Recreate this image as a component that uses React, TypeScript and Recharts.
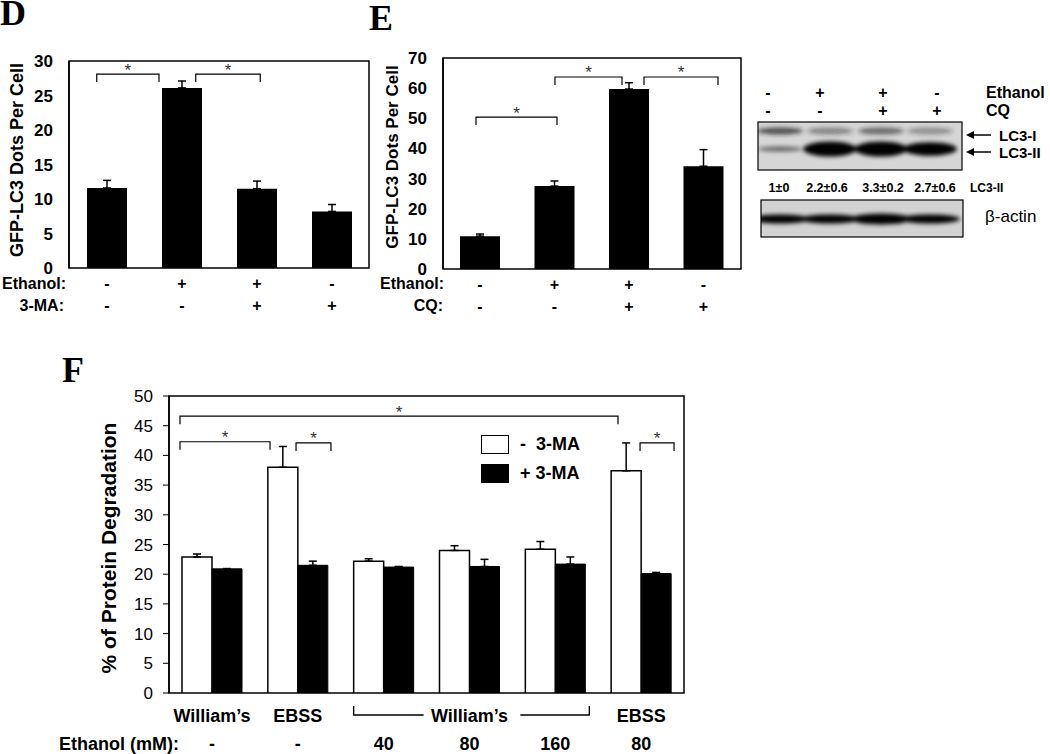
import React from 'react';
import { BarChart, Bar, XAxis, YAxis, ErrorBar, ReferenceArea, ReferenceLine, LabelList, Legend } from 'recharts';

const FONT = 'Arial, "Liberation Sans", Helvetica, sans-serif';
const SERIF = '"Times New Roman", "Liberation Serif", serif';

// panel D: GFP-LC3 dots, ethanol +/- 3-MA
const dEthanol = ['-', '+', '+', '-'];
const dMA = ['-', '-', '+', '+'];
const dDots = [11.6, 26.1, 11.5, 8.2];
const dDotsErr = [1.1, 1.0, 1.1, 1.0];
const dTicks = [0, 5, 10, 15, 20, 25, 30];
const dSig = [
  { from: 0.37, to: 1.2, y: 28.1 },
  { from: 1.69, to: 2.55, y: 28.1 },
];

// panel E: GFP-LC3 dots, ethanol +/- CQ
const eEthanol = ['-', '+', '+', '-'];
const eCQ = ['-', '-', '+', '+'];
const eDots = [10.9, 27.5, 59.7, 34.1];
const eDotsErr = [0.7, 1.7, 2.1, 5.5];
const eTicks = [0, 10, 20, 30, 40, 50, 60, 70];
const eSig = [
  { from: 0.443, to: 1.53, y: 50.4 },
  { from: 1.503, to: 2.403, y: 63.7 },
  { from: 2.698, to: 3.691, y: 63.7 },
];

// western blot next to E
const blotEthanol = ['-', '+', '+', '-'];
const blotCQ = ['-', '-', '+', '+'];
const blotLC3II = ['1±0', '2.2±0.6', '3.3±0.2', '2.7±0.6'];
const blotBandI = [0.75, 0.45, 0.6, 0.4];
const blotBandII = [0.35, 1, 1, 0.9];

// panel F: protein degradation
const fMedium = ['William’s', 'EBSS', 'William’s', 'William’s', 'William’s', 'EBSS'];
const fEthanol = ['-', '-', '40', '80', '160', '80'];
const fMinus = [22.9, 38.0, 22.2, 24.0, 24.2, 37.4];
const fMinusErr = [0.5, 3.5, 0.4, 0.8, 1.3, 4.7];
const fPlus = [20.9, 21.5, 21.2, 21.3, 21.7, 20.1];
const fPlusErr = [0.05, 0.7, 0.1, 1.2, 1.2, 0.2];
const fTicks = [0, 5, 10, 15, 20, 25, 30, 35, 40, 45, 50];
const fSig = [
  { from: 0.128, to: 5.231, y: 46.6 },
  { from: 0.128, to: 1.177, y: 42.3 },
  { from: 1.48, to: 1.887, y: 42.1 },
  { from: 5.488, to: 5.884, y: 42.1 },
];

const range = (n: number) => Array.from({ length: n + 1 }, (_, k) => k);
const noTick = () => <g />;

const bracket = (p: any) => {
  const { x1, y1, x2 } = p;
  return (
    <g>
      <path d={`M${x1},${y1 + 8}V${y1}H${x2}V${y1 + 8}`} fill="none" stroke="#000" strokeWidth={1.2} />
      <text x={(x1 + x2) / 2} y={y1 + 1.5} textAnchor="middle" fontSize={17} fontFamily={FONT} fill="#333">*</text>
    </g>
  );
};

const box = (p: any) => (p.viewBox ? p.viewBox : p);

function DotsPanel(props: any) {
  const { left, width, plotLeft, plotRight, plotTop, plotBottom, yMax, ticks, values, errs, row1, row2, sig } = props;
  const height = 320;
  const data = values.map((v: number, i: number) => ({ i, dots: v, err: [0, errs[i]] }));
  const n = values.length;
  const rows = (p: any) => {
    const b = box(p);
    const i = Number(p.value ?? p.index);
    const cx = b.x + b.width / 2;
    const base = b.y + b.height;
    return (
      <g fontFamily={FONT} fontWeight="bold" fontSize={16} textAnchor="middle" fill="#000">
        <text x={cx} y={base + 15} dominantBaseline="central">{row1[i]}</text>
        <text x={cx} y={base + 37} dominantBaseline="central">{row2[i]}</text>
      </g>
    );
  };
  return (
    <div style={{ position: 'absolute', left, top: 0 }}>
      <BarChart
        width={width}
        height={height}
        data={data}
        barGap={0}
        margin={{ top: plotTop, right: left + width - plotRight, bottom: height - plotBottom, left: 0 }}
      >
        <XAxis dataKey="i" hide />
        <XAxis
          xAxisId="e"
          dataKey="i"
          type="number"
          domain={[0, n]}
          ticks={range(n).slice(1, n)}
          allowDataOverflow
          mirror
          tick={noTick}
          tickSize={5}
          tickLine={{ stroke: '#000' }}
          axisLine={{ stroke: '#000', strokeWidth: 1.5 }}
          height={0}
        />
        <YAxis
          domain={[0, yMax]}
          ticks={ticks}
          allowDataOverflow
          width={plotLeft - left}
          tickLine={false}
          tickSize={6}
          tickMargin={10}
          axisLine={{ stroke: '#000', strokeWidth: 1.5 }}
          tick={{ fontSize: 17, fontWeight: 'bold', fill: '#000', fontFamily: FONT }}
        />
        <ReferenceArea xAxisId="e" x1={0} x2={n} y1={0} y2={yMax} fill="none" stroke="#000" strokeWidth={1.5} ifOverflow="visible" />
        <Bar dataKey="dots" fill="#000" barSize={40} isAnimationActive={false}>
          <ErrorBar dataKey="err" direction="y" width={4} stroke="#000" strokeWidth={1.5} />
          <LabelList dataKey="i" content={rows} />
        </Bar>
        {sig.map((s: any, k: number) => (
          <ReferenceLine
            key={k}
            xAxisId="e"
            segment={[{ x: s.from, y: s.y }, { x: s.to, y: s.y }]}
            ifOverflow="visible"
            shape={bracket}
          />
        ))}
      </BarChart>
    </div>
  );
}

function DegradationPanel() {
  const left = 60;
  const top = 340;
  const width = 640;
  const height = 414;
  const plotLeft = 169;
  const plotRight = 684;
  const plotTop = 396;
  const plotBottom = 693;
  const n = fMinus.length;
  const data = fMinus.map((v, i) => ({
    i,
    minus: v,
    minusErr: [0, fMinusErr[i]],
    plus: fPlus[i],
    plusErr: [0, fPlusErr[i]],
  }));
  const runOf = (i: number) => {
    let s = i;
    while (s > 0 && fMedium[s - 1] === fMedium[i]) s--;
    let e = i;
    while (e < n - 1 && fMedium[e + 1] === fMedium[i]) e++;
    return [s, e];
  };
  const rows = (p: any) => {
    const b = box(p);
    const i = Number(p.value ?? p.index);
    const cx = b.x; // black bar starts at group centre
    const w = b.width;
    const base = b.y + b.height;
    const y1 = base + 22;
    const [s, e] = runOf(i);
    let medium: any = null;
    if (s === e || i === Math.round((s + e) / 2)) {
      medium = <text x={cx} y={base + 23} dominantBaseline="central">{fMedium[i]}</text>;
    } else if (i === s) {
      medium = <path d={`M${cx - w},${y1 - 9}V${y1}H${cx + 40}`} fill="none" stroke="#000" strokeWidth={1.3} />;
    } else if (i === e) {
      medium = <path d={`M${cx + w + 4},${y1 - 9}V${y1}H${cx - 35}`} fill="none" stroke="#000" strokeWidth={1.3} />;
    }
    return (
      <g fontFamily={FONT} fontWeight="bold" fontSize={18} textAnchor="middle" fill="#000">
        {medium}
        <text x={cx} y={base + 51} dominantBaseline="central">{fEthanol[i]}</text>
      </g>
    );
  };
  const legend = (p: any) => (
    <div style={{ fontFamily: FONT, fontWeight: 'bold', fontSize: 18, color: '#000' }}>
      {(p.payload || []).map((e: any, k: number) => (
        <div key={k} style={{ display: 'flex', alignItems: 'center', height: 19, marginBottom: 10 }}>
          <span style={{ display: 'inline-block', boxSizing: 'border-box', width: 28, height: 19, border: '1.5px solid #000', background: e.color }} />
          <span style={{ marginLeft: 11, whiteSpace: 'pre' }}>{e.value}</span>
        </div>
      ))}
    </div>
  );
  return (
    <div style={{ position: 'absolute', left, top }}>
      <BarChart
        width={width}
        height={height}
        data={data}
        barGap={0}
        margin={{ top: plotTop - top, right: left + width - plotRight, bottom: top + height - plotBottom, left: 0 }}
      >
        <XAxis dataKey="i" hide />
        <XAxis
          xAxisId="e"
          dataKey="i"
          type="number"
          domain={[0, n]}
          ticks={range(n)}
          allowDataOverflow
          tick={noTick}
          tickSize={4}
          tickLine={{ stroke: '#000' }}
          axisLine={{ stroke: '#000', strokeWidth: 1.5 }}
          height={0}
        />
        <YAxis
          domain={[0, 50]}
          ticks={fTicks}
          allowDataOverflow
          width={plotLeft - left}
          tickSize={6}
          tickMargin={10}
          tickLine={{ stroke: '#000' }}
          axisLine={{ stroke: '#000', strokeWidth: 1.5 }}
          tick={{ fontSize: 17, fill: '#000', fontFamily: FONT }}
        />
        <ReferenceArea xAxisId="e" x1={0} x2={n} y1={0} y2={50} fill="none" stroke="#000" strokeWidth={1.5} ifOverflow="visible" />
        <Legend
          layout="vertical"
          verticalAlign="middle"
          align="center"
          itemSorter="dataKey"
          wrapperStyle={{ left: 421, top: 95, width: 160 }}
          content={legend}
        />
        <Bar dataKey="minus" name="-  3-MA" fill="#fff" stroke="#000" strokeWidth={1.5} barSize={30} isAnimationActive={false}>
          <ErrorBar dataKey="minusErr" direction="y" width={4} stroke="#000" strokeWidth={1.5} />
        </Bar>
        <Bar dataKey="plus" name="+ 3-MA" fill="#000" stroke="#000" strokeWidth={1} barSize={30} isAnimationActive={false}>
          <ErrorBar dataKey="plusErr" direction="y" width={4} stroke="#000" strokeWidth={1.5} />
          <LabelList dataKey="i" content={rows} />
        </Bar>
        {fSig.map((s, k) => (
          <ReferenceLine
            key={k}
            xAxisId="e"
            segment={[{ x: s.from, y: s.y }, { x: s.to, y: s.y }]}
            ifOverflow="visible"
            shape={bracket}
          />
        ))}
      </BarChart>
    </div>
  );
}

const laneX = [780, 830, 881, 930];
const symX = [768, 820, 883, 937];
const numX = [779, 827, 883, 935];

function Blot() {
  return (
    <g fontFamily={FONT} fill="#000">
      <defs>
        <filter id="soft" x="-50%" y="-100%" width="200%" height="300%">
          <feGaussianBlur stdDeviation="2.2" />
        </filter>
        <clipPath id="clipA"><rect x={758} y={122} width={204} height={48} /></clipPath>
        <clipPath id="clipB"><rect x={761} y={200} width={202} height={37} /></clipPath>
      </defs>
      {blotEthanol.map((s, k) => (
        <text key={'e' + k} x={symX[k]} y={92} textAnchor="middle" dominantBaseline="central" fontWeight="bold" fontSize={16}>{s}</text>
      ))}
      {blotCQ.map((s, k) => (
        <text key={'c' + k} x={symX[k]} y={110} textAnchor="middle" dominantBaseline="central" fontWeight="bold" fontSize={16}>{s}</text>
      ))}
      <text x={986} y={92} dominantBaseline="central" fontWeight="bold" fontSize={16}>Ethanol</text>
      <text x={986} y={110} dominantBaseline="central" fontWeight="bold" fontSize={16}>CQ</text>

      <rect x={758} y={122} width={204} height={48} fill="#d6d6d6" />
      <g clipPath="url(#clipA)" filter="url(#soft)">
        {blotBandI.map((v, k) => (
          <ellipse key={'i' + k} cx={laneX[k]} cy={131} rx={23} ry={3.5} fill="#222" opacity={v} />
        ))}
        {blotBandII.map((v, k) => (
          <ellipse key={'ii' + k} cx={laneX[k]} cy={149} rx={k === 0 ? 22 : 27} ry={k === 0 ? 2.5 : 7.5 * v} fill="#000" opacity={k === 0 ? 0.55 : 1} />
        ))}
      </g>
      <rect x={758} y={122} width={204} height={48} fill="none" stroke="#000" strokeWidth={1.2} />

      <line x1={991} y1={135} x2={972} y2={135} stroke="#000" strokeWidth={1.5} />
      <path d="M966,135l8,-4v8z" />
      <text x={999} y={135} dominantBaseline="central" fontWeight="bold" fontSize={15}>LC3-I</text>
      <line x1={991} y1={152} x2={972} y2={152} stroke="#000" strokeWidth={1.5} />
      <path d="M966,152l8,-4v8z" />
      <text x={999} y={152} dominantBaseline="central" fontWeight="bold" fontSize={15}>LC3-II</text>

      {blotLC3II.map((s, k) => (
        <text key={'n' + k} x={numX[k]} y={188} textAnchor="middle" dominantBaseline="central" fontWeight="bold" fontSize={12.5}>{s}</text>
      ))}
      <text x={970} y={188} dominantBaseline="central" fontWeight="bold" fontSize={12}>LC3-II</text>

      <rect x={761} y={200} width={202} height={37} fill="#d2d2d2" />
      <g clipPath="url(#clipB)" filter="url(#soft)">
        {laneX.map((x, k) => (
          <ellipse key={'a' + k} cx={x} cy={219} rx={30} ry={k === 2 ? 5.5 : 4.5} fill="#000" />
        ))}
      </g>
      <rect x={761} y={200} width={202} height={37} fill="none" stroke="#000" strokeWidth={1.2} />
      <text x={985} y={216} dominantBaseline="central" fontSize={17}>β-actin</text>
    </g>
  );
}

export default function App() {
  return (
    <div style={{ position: 'absolute', left: 0, top: 0, width: 1050, height: 754, background: '#fff', overflow: 'hidden', fontFamily: FONT }}>
      <DotsPanel
        left={0} width={380} plotLeft={69} plotRight={369} plotTop={61} plotBottom={268}
        yMax={30} ticks={dTicks} values={dDots} errs={dDotsErr} row1={dEthanol} row2={dMA} sig={dSig}
      />
      <DotsPanel
        left={360} width={390} plotLeft={443} plotRight={741} plotTop={58} plotBottom={269}
        yMax={70} ticks={eTicks} values={eDots} errs={eDotsErr} row1={eEthanol} row2={eCQ} sig={eSig}
      />
      <DegradationPanel />
      <svg width={1050} height={754} style={{ position: 'absolute', left: 0, top: 0, pointerEvents: 'none' }}>
        <g fontFamily={SERIF} fontWeight="bold" fontSize={36} fill="#000">
          <text x={0} y={25}>D</text>
          <text x={369} y={30}>E</text>
          <text x={62} y={382}>F</text>
        </g>
        <g fontFamily={FONT} fontWeight="bold" fill="#000" textAnchor="middle">
          <text transform="translate(17,160) rotate(-90)" dominantBaseline="central" fontSize={18}>GFP-LC3 Dots Per Cell</text>
          <text transform="translate(392,157) rotate(-90)" dominantBaseline="central" fontSize={17}>GFP-LC3 Dots Per Cell</text>
          <text transform="translate(108,548) rotate(-90)" dominantBaseline="central" fontSize={21}>% of Protein Degradation</text>
        </g>
        <g fontFamily={FONT} fontWeight="bold" fontSize={16} fill="#000" textAnchor="end">
          <text x={66} y={283} dominantBaseline="central">Ethanol:</text>
          <text x={64} y={305} dominantBaseline="central">3-MA:</text>
          <text x={444} y={283} dominantBaseline="central">Ethanol:</text>
          <text x={443} y={305} dominantBaseline="central">CQ:</text>
          <text x={179} y={744} dominantBaseline="central" fontSize={18}>Ethanol (mM):</text>
        </g>
        <Blot />
      </svg>
    </div>
  );
}
